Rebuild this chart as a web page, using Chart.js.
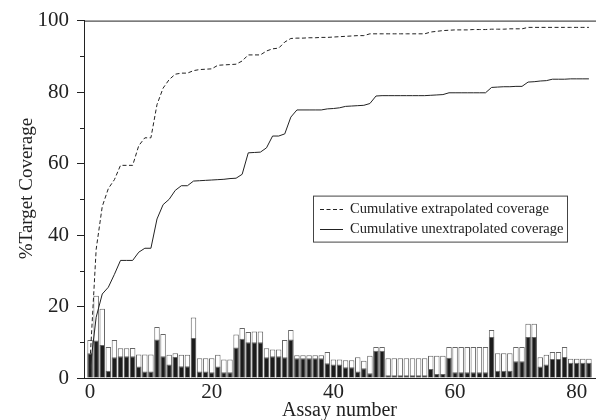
<!DOCTYPE html>
<html>
<head>
<meta charset="utf-8">
<script src="https://cdn.jsdelivr.net/npm/chart.js@4.4.1/dist/chart.umd.min.js"></script>
<style>
  body { margin: 0; background: #fff; }
  canvas { display: block; }
</style>
</head>
<body>
<canvas id="coverageChart" width="596" height="420"></canvas>
<script>
// Coverage per assay (white = extrapolated, black = unextrapolated), assay 0..82
const extrapolated = [
  10.6, 23, 19.4, 8.7, 10.6, 8.3, 8.3, 8.4, 6.6, 6.6,
  6.6, 14.3, 12.3, 6.5, 6.9, 6.5, 6.5, 16.9, 5.5, 5.5,
  5.5, 6.5, 5.2, 5.2, 12.2, 14, 12.9, 13, 13, 8.3,
  8, 8, 10.6, 13.4, 6.4, 6.4, 6.4, 6.4, 6.4, 7.3,
  5.2, 5.2, 5, 5, 5.8, 4.8, 6.2, 8.7, 8.7, 5.5,
  5.5, 5.5, 5.5, 5.5, 5.5, 5.5, 6.2, 6.2, 6.2, 8.7,
  8.7, 8.7, 8.7, 8.7, 8.7, 8.7, 13.4, 6.9, 6.9, 6.9,
  8.7, 8.7, 15.2, 15.2, 5.8, 6.5, 7.3, 7.3, 8.7, 5.4,
  5.4, 5.4, 5.4
];
const unextrapolated = [
  6.9, 10.5, 9.2, 2, 5.8, 6.1, 6.1, 6.1, 3.2, 1.8,
  1.8, 10.8, 6.1, 3.8, 5.9, 3.3, 3.3, 11.2, 1.8, 1.8,
  1.6, 3.2, 1.6, 1.6, 8.5, 11, 10, 10, 10, 5.8,
  6.1, 6.1, 5.8, 10.8, 5.5, 5.5, 5.5, 5.5, 5.5, 4.1,
  3.8, 3.8, 3, 3, 1.8, 2.7, 1.3, 7.6, 7.6, 0.8,
  0.8, 0.8, 0.8, 0.8, 0.8, 0.8, 2.5, 1.1, 1.1, 5.7,
  1.6, 1.6, 1.6, 1.6, 1.6, 1.6, 11.5, 2, 2, 2,
  4.7, 4.7, 11.5, 11.5, 3.2, 3.8, 5.3, 5.3, 5.9, 4.3,
  4.3, 4.3, 4.3
];
// Cumulative curves
const cumExtrapolated = [
  5, 36, 48, 53, 55.5, 59.5, 59.5, 59.5, 65, 67.2,
  67.2, 76.5, 81.1, 83.5, 85, 85.3, 85.3, 86, 86.3, 86.4,
  86.5, 87.5, 87.6, 87.7, 87.8, 88.7, 90.4, 90.4, 90.4, 91.5,
  92.1, 92.3, 94, 95, 95.1, 95.1, 95.2, 95.2, 95.3, 95.3,
  95.4, 95.5, 95.6, 95.7, 95.8, 95.8, 96.3, 96.3, 96.3, 96.3,
  96.3, 96.3, 96.3, 96.3, 96.3, 96.3, 96.8, 97, 97.2, 97.3,
  97.4, 97.4, 97.4, 97.5, 97.5, 97.5, 97.6, 97.6, 97.6, 97.7,
  97.7, 97.7, 98.1, 98.1, 98.1, 98.1, 98.1, 98.1, 98.1, 98.1,
  98.1, 98.1, 98.1
];
const cumUnextrapolated = [
  2.5, 17, 23.5, 25.4, 29, 32.9, 32.9, 32.9, 35.2, 36.3,
  36.3, 44.5, 48.5, 50, 52.5, 53.8, 53.8, 55.1, 55.2, 55.3,
  55.4, 55.5, 55.6, 55.8, 55.9, 57, 63, 63.1, 63.2, 64.4,
  67.7, 67.7, 68.3, 73, 75, 75, 75, 75, 75, 75.3,
  75.4, 75.6, 76, 76.1, 76.2, 76.3, 76.8, 78.9, 79, 79,
  79, 79, 79, 79, 79, 79, 79.1, 79.2, 79.3, 79.8,
  79.8, 79.8, 79.8, 79.8, 79.8, 79.8, 81.3, 81.4, 81.5, 81.5,
  81.6, 81.6, 82.8, 82.9, 83.1, 83.2, 83.6, 83.6, 83.6, 83.7,
  83.7, 83.7, 83.7
];
const yMinorTicks = [10, 30, 50, 70, 90];
const yTitle = '%Target Coverage';

const serif = "'Liberation Serif', 'DejaVu Serif', serif";
Chart.defaults.font.family = serif;
Chart.defaults.color = '#222';

const toPoints = arr => arr.map((v, i) => ({ x: i, y: v }));

// extra drawing: top frame line, minor y ticks, y title, legend box
const extras = {
  id: 'extras',
  afterDraw(chart) {
    const ctx = chart.ctx;
    const ca = chart.chartArea;
    const y = chart.scales.y;
    ctx.save();
    ctx.strokeStyle = '#222';
    ctx.lineWidth = 1;
    ctx.beginPath();
    ctx.moveTo(ca.left, ca.top + 0.5);
    ctx.lineTo(chart.width, ca.top + 0.5);
    yMinorTicks.forEach(v => {
      const py = Math.round(y.getPixelForValue(v)) + 0.5;
      ctx.moveTo(ca.left - 4, py);
      ctx.lineTo(ca.left, py);
    });
    ctx.stroke();

    // y title, sits a bit above the middle like the original
    ctx.save();
    ctx.translate(27.5, ca.top + (ca.bottom - ca.top) * 0.47);
    ctx.rotate(-Math.PI / 2);
    ctx.font = '19px ' + serif;
    ctx.fillStyle = '#222';
    ctx.textAlign = 'center';
    ctx.textBaseline = 'middle';
    ctx.fillText(yTitle, 0, 0);
    ctx.restore();

    // legend
    const lx = ca.left + 229, ly = ca.top + 175, lw = 254, lh = 46;
    ctx.fillStyle = '#fff';
    ctx.fillRect(lx, ly, lw, lh);
    ctx.strokeStyle = '#444';
    ctx.strokeRect(lx + 0.5, ly + 0.5, lw, lh);
    ctx.font = '14.5px ' + serif;
    ctx.fillStyle = '#222';
    ctx.textBaseline = 'middle';
    const rows = [chart.data.datasets[0], chart.data.datasets[1]];
    rows.forEach((ds, i) => {
      const ry = Math.round(ly + 13 + i * 20) + 0.5;
      ctx.strokeStyle = '#222';
      ctx.setLineDash(ds.borderDash || []);
      ctx.beginPath();
      ctx.moveTo(lx + 7, ry);
      ctx.lineTo(lx + 30, ry);
      ctx.stroke();
      ctx.setLineDash([]);
      ctx.fillText(ds.label, lx + 37, ry);
    });
    ctx.restore();
  }
};

const ctx = document.getElementById('coverageChart').getContext('2d');
const coverageChart = new Chart(ctx, {
  type: 'bar',
  data: {
    datasets: [
      {
        type: 'line',
        label: 'Cumulative extrapolated coverage',
        data: toPoints(cumExtrapolated),
        borderColor: '#222',
        borderWidth: 1,
        borderDash: [4, 2.5],
        pointRadius: 0,
        tension: 0
      },
      {
        type: 'line',
        label: 'Cumulative unextrapolated coverage',
        data: toPoints(cumUnextrapolated),
        borderColor: '#222',
        borderWidth: 1,
        pointRadius: 0,
        tension: 0
      },
      {
        label: 'Unextrapolated',
        data: toPoints(unextrapolated),
        backgroundColor: '#1c1c1c',
        borderColor: '#666',
        borderWidth: 1,
        grouped: false,
        barPercentage: 0.9,
        categoryPercentage: 1
      },
      {
        label: 'Extrapolated',
        data: toPoints(extrapolated),
        backgroundColor: '#fff',
        borderColor: '#666',
        borderWidth: 1,
        grouped: false,
        barPercentage: 0.9,
        categoryPercentage: 1
      }
    ]
  },
  options: {
    responsive: false,
    animation: false,
    devicePixelRatio: 1,
    layout: { padding: { top: 19, right: 1, left: 0, bottom: 0 } },
    plugins: {
      legend: { display: false },
      tooltip: { enabled: false }
    },
    scales: {
      x: {
        type: 'linear',
        min: -1,
        max: 83,
        offset: false,
        grid: { display: false, drawTicks: false, offset: false },
        border: { display: true, color: '#222', width: 1 },
        ticks: {
          stepSize: 20,
          includeBounds: false,
          padding: 2,
          maxRotation: 0,
          font: { size: 21 },
          color: '#222'
        },
        title: {
          display: true,
          text: 'Assay number',
          font: { size: 20 },
          color: '#222',
          padding: { top: 0, bottom: -3 }
        },
        afterFit(scale) { scale.height = 42; }
      },
      y: {
        min: 0,
        max: 100,
        grid: { drawOnChartArea: false, drawTicks: true, tickLength: 7, tickColor: '#222' },
        border: { display: true, color: '#222', width: 1 },
        ticks: {
          stepSize: 20,
          padding: 8,
          font: { size: 21 },
          color: '#222'
        },
        title: { display: false },
        afterFit(scale) { scale.width = 84; }
      }
    }
  },
  plugins: [extras]
});
</script>
</body>
</html>
